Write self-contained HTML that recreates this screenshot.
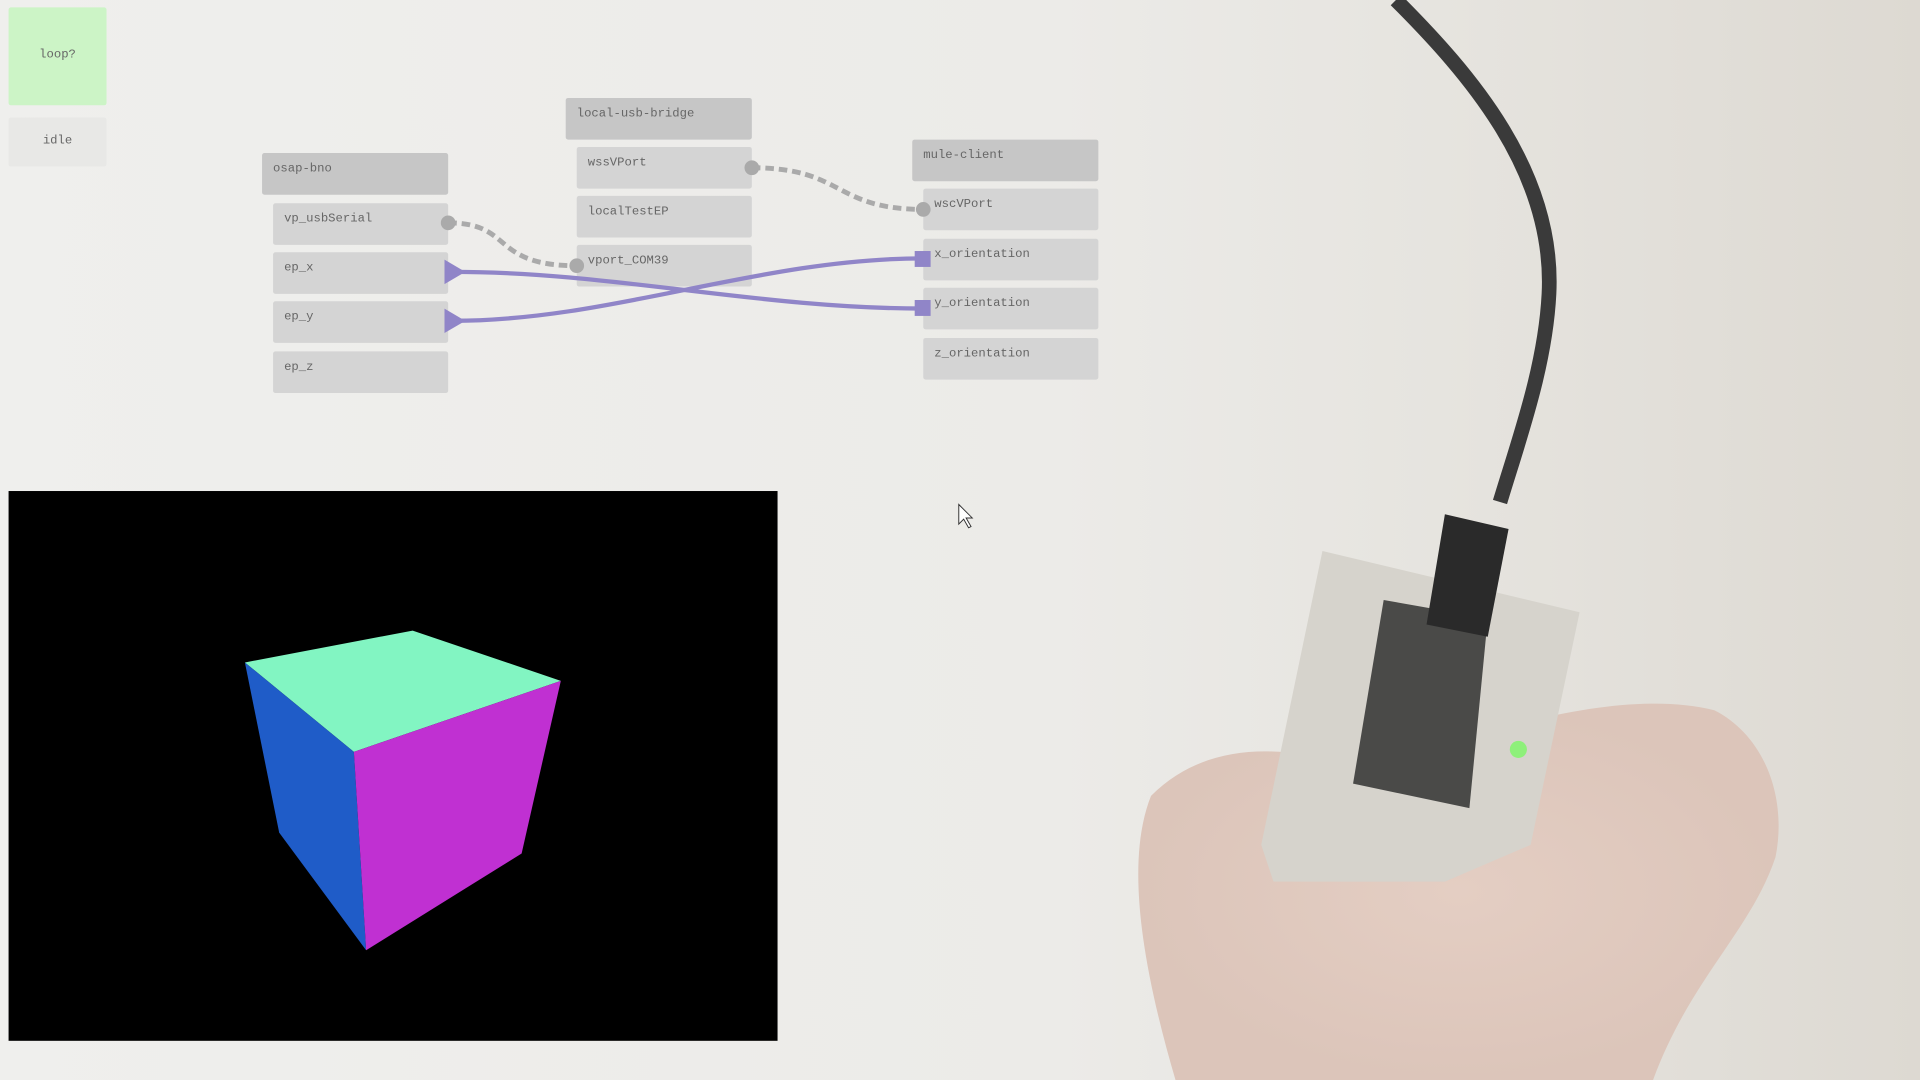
<!DOCTYPE html>
<html><head><meta charset="utf-8"><style>
html,body{margin:0;padding:0;width:1920px;height:1080px;overflow:hidden;background:#ecebe8}
#s{position:absolute;left:0;top:0;width:1568px;height:882px;transform:scale(1.22449);transform-origin:0 0;
background:linear-gradient(90deg,#efefed 0%,#ecebe8 55%,#e6e4df 75%,#ddd9d2 100%)}
.b{position:absolute;background:#d4d4d4;border-radius:2px;font-family:"Liberation Mono",monospace;font-size:10px;color:#666;box-sizing:border-box;padding:8px 0 0 9px}
.h{background:#c6c6c6}
</style></head><body><div id="s">
<svg width="1568" height="882" style="position:absolute;left:0;top:0">
<defs><radialGradient id="sk" cx="50%" cy="50%" r="50%"><stop offset="0" stop-color="#e4cec3"/><stop offset="1" stop-color="#dcc5ba"/></radialGradient></defs>
<path d="M1140 0 C1200 60 1270 140 1265 240 C1262 300 1240 360 1225 410" stroke="#3a3a3a" stroke-width="12" fill="none"/>
<path d="M960 882 C930 780 920 700 940 650 C990 600 1060 610 1120 630 C1200 600 1320 560 1400 580 C1440 600 1460 650 1450 700 C1430 760 1380 800 1350 882 Z" fill="url(#sk)"/>
<path d="M1080 450 L1290 500 L1250 690 L1180 720 L1040 720 L1030 690 Z" fill="#d6d3cc"/>
<path d="M1130 490 L1215 505 L1200 660 L1105 640 Z" fill="#4a4a48"/>
<path d="M1180 420 L1232 432 L1215 520 L1165 510 Z" fill="#2a2a2a"/>
<circle cx="1240" cy="612" r="7" fill="#8ef07a"/>
</svg>
<div class="b" style="left:7px;top:6px;width:80px;height:80px;background:#ccf4c6;text-align:center;padding:34px 0 0;color:#666">loop?</div>
<div class="b" style="left:7px;top:96px;width:80px;height:40px;background:#e8e8e6;text-align:center;padding:14px 0 0;color:#666">idle</div>

<div class="b h" style="left:214px;top:125px;width:152px;height:34px">osap-bno</div>
<div class="b" style="left:223px;top:166px;width:143px;height:34px">vp_usbSerial</div>
<div class="b" style="left:223px;top:206px;width:143px;height:34px">ep_x</div>
<div class="b" style="left:223px;top:246px;width:143px;height:34px">ep_y</div>
<div class="b" style="left:223px;top:287px;width:143px;height:34px">ep_z</div>

<div class="b h" style="left:462px;top:80px;width:152px;height:34px">local-usb-bridge</div>
<div class="b" style="left:471px;top:120px;width:143px;height:34px">wssVPort</div>
<div class="b" style="left:471px;top:160px;width:143px;height:34px">localTestEP</div>
<div class="b" style="left:471px;top:200px;width:143px;height:34px">vport_COM39</div>

<div class="b h" style="left:745px;top:114px;width:152px;height:34px">mule-client</div>
<div class="b" style="left:754px;top:154px;width:143px;height:34px">wscVPort</div>
<div class="b" style="left:754px;top:195px;width:143px;height:34px">x_orientation</div>
<div class="b" style="left:754px;top:235px;width:143px;height:34px">y_orientation</div>
<div class="b" style="left:754px;top:276px;width:143px;height:34px">z_orientation</div>

<svg width="1568" height="882" style="position:absolute;left:0;top:0">
<g fill="none" stroke="#aaa" stroke-width="4" stroke-dasharray="7,4">
<path d="M366 182 C420 182 400 217 471 217"/>
<path d="M614 137 C690 137 680 171 754 171"/>
</g>
<g fill="none" stroke="#9085c8" stroke-width="3.5">
<path d="M370 222 C500 222 620 252 754 252"/>
<path d="M370 262 C500 262 620 211 754 211"/>
</g>
<g fill="#aaa"><circle cx="366" cy="182" r="6"/><circle cx="471" cy="217" r="6"/><circle cx="614" cy="137" r="6"/><circle cx="754" cy="171" r="6"/></g>
<g fill="#9085c8"><path d="M363 212 L380 222 L363 232Z"/><path d="M363 252 L380 262 L363 272Z"/>
<rect x="747" y="205" width="13" height="13"/><rect x="747" y="245" width="13" height="13"/></g>
<rect x="7" y="401" width="628" height="449" fill="#000"/>
<polygon points="200,541 337,515 458,556 289,614" fill="#82f5c2"/>
<polygon points="200,541 289,614 299,776 228,680" fill="#1f5cc8"/>
<polygon points="289,614 458,556 426,697 299,776" fill="#c030d2"/>
<path d="M783 412 L783 428 L787 424 L791 431 L793 430 L789 423 L794 423 Z" fill="#fff" stroke="#333" stroke-width="0.8"/>
</svg>
</div></body></html>
